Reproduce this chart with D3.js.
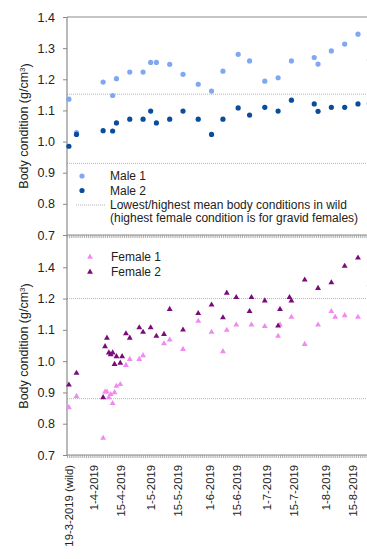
<!DOCTYPE html>
<html>
<head>
<meta charset="utf-8">
<script src="https://cdn.jsdelivr.net/npm/d3@7"></script>
<style>
  body { margin: 0; background: #fff; }
  text { font-family: "Liberation Sans", Arial, sans-serif; fill: #222; }
</style>
</head>
<body>
<div id="chart"></div>
<script>
// Values (date, body condition)
const male1 = [["19-3-2019",1.136],["23-3-2019",1.029],["6-4-2019",1.191],["11-4-2019",1.148],
  ["13-4-2019",1.202],["20-4-2019",1.223],["27-4-2019",1.223],["1-5-2019",1.254],["4-5-2019",1.254],
  ["11-5-2019",1.248],["18-5-2019",1.216],["26-5-2019",1.184],["2-6-2019",1.162],["8-6-2019",1.226],
  ["16-6-2019",1.280],["22-6-2019",1.259],["30-6-2019",1.194],["7-7-2019",1.205],["14-7-2019",1.259],
  ["26-7-2019",1.270],["28-7-2019",1.249],["4-8-2019",1.291],["11-8-2019",1.313],["18-8-2019",1.345],
  ["24-8-2019",1.262]];
const male2 = [["19-3-2019",0.985],["23-3-2019",1.023],["6-4-2019",1.035],["11-4-2019",1.034],
  ["13-4-2019",1.060],["20-4-2019",1.072],["27-4-2019",1.072],["1-5-2019",1.098],["4-5-2019",1.060],
  ["11-5-2019",1.072],["18-5-2019",1.098],["26-5-2019",1.072],["2-6-2019",1.023],["8-6-2019",1.072],
  ["16-6-2019",1.108],["22-6-2019",1.085],["30-6-2019",1.110],["7-7-2019",1.098],["14-7-2019",1.133],
  ["26-7-2019",1.121],["28-7-2019",1.097],["4-8-2019",1.110],["11-8-2019",1.110],["18-8-2019",1.121],
  ["24-8-2019",1.122]];
const female1 = [["19-3-2019",0.852],["23-3-2019",0.888],["6-4-2019",0.754],["7-4-2019",0.902],
  ["8-4-2019",0.902],["9-4-2019",0.884],["10-4-2019",0.894],["11-4-2019",0.865],["12-4-2019",0.900],
  ["13-4-2019",0.920],["15-4-2019",0.926],["18-4-2019",0.987],["20-4-2019",1.006],["25-4-2019",1.006],
  ["27-4-2019",1.018],["8-5-2019",1.056],["11-5-2019",1.068],["18-5-2019",1.038],["26-5-2019",1.128],
  ["2-6-2019",1.093],["8-6-2019",1.031],["10-6-2019",1.099],["15-6-2019",1.116],["23-6-2019",1.116],
  ["30-6-2019",1.111],["7-7-2019",1.080],["8-7-2019",1.116],["14-7-2019",1.141],["21-7-2019",1.054],
  ["28-7-2019",1.116],["4-8-2019",1.159],["6-8-2019",1.141],["11-8-2019",1.146],["18-8-2019",1.141],
  ["24-8-2019",1.245]];
const female2 = [["19-3-2019",0.924],["23-3-2019",0.962],["6-4-2019",0.884],["7-4-2019",1.047],
  ["8-4-2019",1.074],["9-4-2019",1.027],["10-4-2019",1.021],["11-4-2019",1.027],["12-4-2019",0.990],
  ["13-4-2019",1.015],["15-4-2019",0.994],["16-4-2019",1.015],["18-4-2019",1.088],["20-4-2019",1.074],
  ["25-4-2019",1.107],["27-4-2019",1.093],["1-5-2019",1.107],["4-5-2019",1.080],["8-5-2019",1.086],
  ["11-5-2019",1.166],["18-5-2019",1.100],["26-5-2019",1.153],["2-6-2019",1.180],["8-6-2019",1.139],
  ["10-6-2019",1.218],["15-6-2019",1.204],["22-6-2019",1.159],["23-6-2019",1.204],["30-6-2019",1.193],
  ["7-7-2019",1.113],["8-7-2019",1.166],["13-7-2019",1.204],["14-7-2019",1.193],["21-7-2019",1.260],
  ["28-7-2019",1.233],["4-8-2019",1.251],["11-8-2019",1.304],["18-8-2019",1.330]];

// lowest / highest mean body condition in the wild
const wildMale = [0.93, 1.152];
const wildFemale = [0.88, 1.2];

// axis ticks
const xTickDates = ["19-3-2019","1-4-2019","15-4-2019","1-5-2019","15-5-2019","1-6-2019",
  "15-6-2019","1-7-2019","15-7-2019","1-8-2019","15-8-2019"];
const xTickLabels = ["19-3-2019 (wild)","1-4-2019","15-4-2019","1-5-2019","15-5-2019","1-6-2019",
  "15-6-2019","1-7-2019","15-7-2019","1-8-2019","15-8-2019"];
const yTicks = [0.7, 0.8, 0.9, 1.0, 1.1, 1.2, 1.3];
const yTickLabelsTop = ["0.7","0.8","0.9","1.0","1.1","1.2","1.3"];
const yTickLabelsBottom = ["0.7","0.8","0.9","1.0","1.1","1.2","1.4"];

const W = 367, H = 559;
const left = 67, right = 377;
const parse = d3.utcParse("%d-%m-%Y");

const svg = d3.select("#chart").append("svg")
    .attr("width", W)
    .attr("height", H);

const x = d3.scaleUtc()
  .domain([parse("18-3-2019"), parse("28-8-2019")])
  .range([left, right]);

const yTop = d3.scaleLinear().domain([0.7, 1.4]).range([235, 17]);
const yBot = d3.scaleLinear().domain([0.7, 1.4]).range([455, 236]);

const axisColor = "#8a8a8a";

function drawYAxis(y, labels, allTicks) {
  const vals = allTicks ? yTicks.concat([1.4]) : yTicks;
  const lab = allTicks ? labels.concat(["1.4"]) : labels;
  const g = svg.append("g")
    .attr("transform", `translate(${left},0)`)
    .call(d3.axisLeft(y)
      .tickValues(vals)
      .tickSize(4)
      .tickPadding(8)
      .tickFormat((d, i) => lab[i]));
  g.select(".domain").remove();
  g.selectAll(".tick line").attr("stroke", axisColor);
  g.selectAll(".tick text").style("font-size", "12.5px").attr("fill", "#222");
}

function drawXAxis(y0, withLabels) {
  // daily tick marks
  const g = svg.append("g")
    .attr("transform", `translate(0,${y0})`)
    .call(d3.axisBottom(x)
      .ticks(d3.utcDay.every(1))
      .tickSize(3)
      .tickFormat(""));
  g.select(".domain").remove();
  g.selectAll(".tick line").attr("stroke", "#9a9a9a").attr("stroke-width", 0.8);
  svg.append("line")
    .attr("x1", left).attr("x2", right)
    .attr("y1", y0).attr("y2", y0)
    .attr("stroke", axisColor).attr("stroke-width", 1.2);

  if (withLabels) {
    const gl = svg.append("g")
      .attr("transform", `translate(0,${y0})`)
      .call(d3.axisBottom(x)
        .tickValues(xTickDates.map(parse))
        .tickSize(0)
        .tickFormat((d, i) => xTickLabels[i]));
    gl.select(".domain").remove();
    gl.selectAll(".tick text")
      .attr("transform", "rotate(-90)")
      .attr("x", -10)
      .attr("y", 0)
      .attr("dy", "0.35em")
      .style("text-anchor", "end")
      .style("font-size", "11.3px")
      .attr("fill", "#222");
  }
}

function refLines(y, vals) {
  svg.append("g").selectAll("line")
    .data(vals)
    .join("line")
      .attr("x1", left).attr("x2", right)
      .attr("y1", d => y(d)).attr("y2", d => y(d))
      .attr("stroke", "#b4b4b4")
      .attr("stroke-width", 1)
      .attr("stroke-dasharray", "1,1");
}

function yTitle(cy) {
  const t = svg.append("text")
    .attr("transform", `translate(24,${cy}) rotate(-90)`)
    .attr("text-anchor", "middle")
    .attr("dy", "0.35em")
    .style("font-size", "12.5px");
  t.append("tspan").text("Body condition (g/cm");
  t.append("tspan").attr("dy", "-0.4em").style("font-size", "8px").text("3");
  t.append("tspan").attr("dy", "0.4em").text(")");
}

// ---- top panel (males)
refLines(yTop, wildMale);
svg.append("line")
  .attr("x1", left).attr("x2", right)
  .attr("y1", yTop(1.4)).attr("y2", yTop(1.4))
  .attr("stroke", axisColor).attr("stroke-width", 1.2);
drawYAxis(yTop, yTickLabelsTop, true);
yTitle(126);

// ---- bottom panel (females)
refLines(yBot, wildFemale);
drawYAxis(yBot, yTickLabelsBottom, false);
yTitle(346);

// left axis line spanning both panels
svg.append("line")
  .attr("x1", left).attr("x2", left)
  .attr("y1", yTop(1.4)).attr("y2", yBot(0.7))
  .attr("stroke", axisColor).attr("stroke-width", 1.2);

drawXAxis(yTop(0.7), false);
drawXAxis(yBot(0.7), true);

const colors = {m1: "#80a8f2", m2: "#0b4c9c", f1: "#f08af0", f2: "#7a0c7a"};

function dots(data, y, color) {
  svg.append("g").selectAll("circle")
    .data(data)
    .join("circle")
      .attr("cx", d => x(parse(d[0])))
      .attr("cy", d => y(d[1]))
      .attr("r", 2.6)
      .attr("fill", color);
}

const tri = d3.symbol().type(d3.symbolTriangle).size(15);
function triangles(data, y, color) {
  svg.append("g").selectAll("path")
    .data(data)
    .join("path")
      .attr("d", tri)
      .attr("transform", d => `translate(${x(parse(d[0]))},${y(d[1])})`)
      .attr("fill", color);
}

dots(male1, yTop, colors.m1);
dots(male2, yTop, colors.m2);
triangles(female1, yBot, colors.f1);
triangles(female2, yBot, colors.f2);

// ---- legends
const legTop = svg.append("g");
legTop.append("circle").attr("cx", 82).attr("cy", 176).attr("r", 2.6).attr("fill", colors.m1);
legTop.append("circle").attr("cx", 82).attr("cy", 190.5).attr("r", 2.6).attr("fill", colors.m2);
legTop.append("line").attr("x1", 76).attr("x2", 106).attr("y1", 205).attr("y2", 205)
  .attr("stroke", "#b4b4b4").attr("stroke-dasharray", "1,1");
[["Male 1", 176], ["Male 2", 190.5],
 ["Lowest/highest mean body conditions in wild", 205],
 ["(highest female condition is for gravid females)", 217.5]].forEach(([t, yy]) => {
  legTop.append("text").attr("x", 110).attr("y", yy).attr("dy", "0.35em")
    .style("font-size", "12px").text(t);
});

const legBot = svg.append("g");
[["Female 1", 257, colors.f1], ["Female 2", 272, colors.f2]].forEach(([t, yy, c]) => {
  legBot.append("path").attr("d", tri).attr("transform", `translate(90,${yy})`).attr("fill", c);
  legBot.append("text").attr("x", 111).attr("y", yy).attr("dy", "0.35em")
    .style("font-size", "12px").text(t);
});
</script>
</body>
</html>
